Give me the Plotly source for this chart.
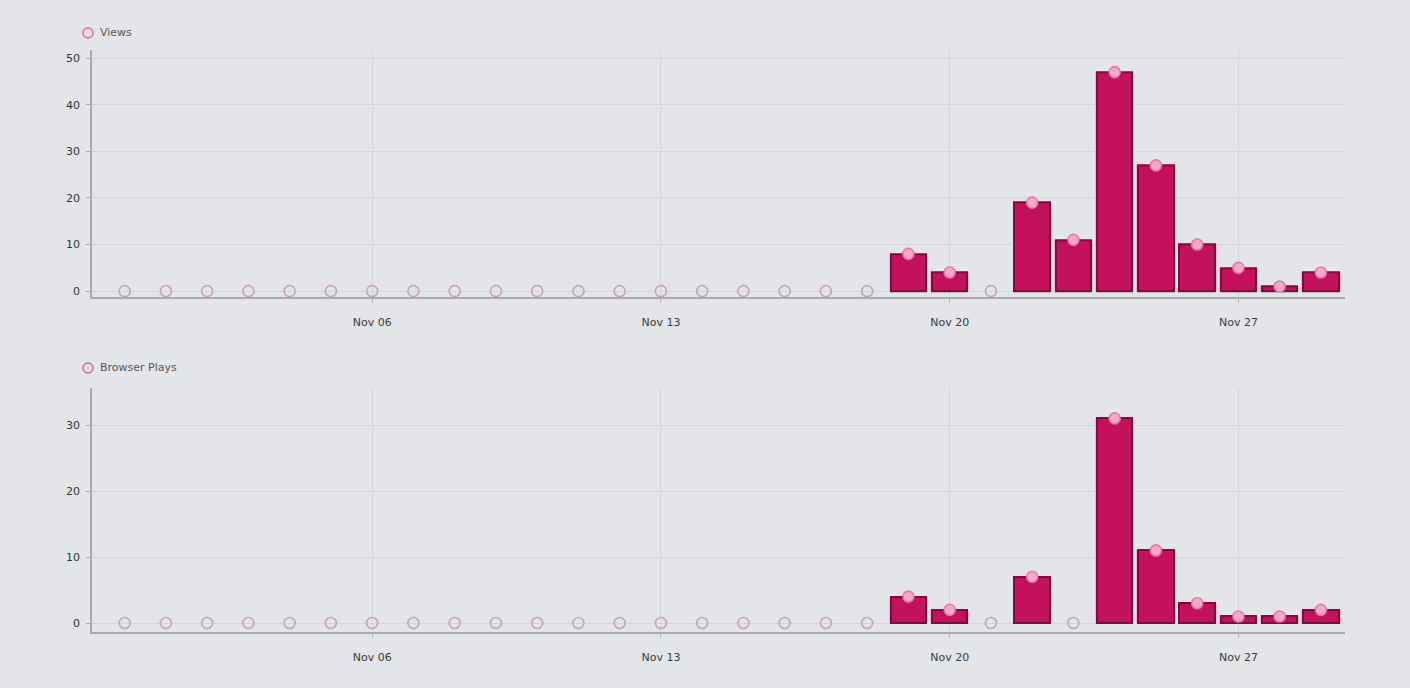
import plotly.graph_objects as go
import pandas as pd

dates = pd.date_range("2023-10-31", "2023-11-29", freq="D")
views = [0]*19 + [8, 4, 0, 19, 11, 47, 27, 10, 5, 1, 4]
plays = [0]*19 + [4, 2, 0, 7, 0, 31, 11, 3, 1, 1, 2]
tick_vals = ["2023-11-06", "2023-11-13", "2023-11-20", "2023-11-27"]
tick_text = ["Nov 06", "Nov 13", "Nov 20", "Nov 27"]
series_names = ["Views", "Browser Plays"]

BG = "#e4e5e9"
GRID = "#d4d5db"
BAR = "#c4115d"
BAR_EDGE = "#7e0b3d"
GLOW = "#f3b4cf"
DOT = "#f2a9c8"
DOT_EDGE = "#e07aa8"
ZERO_EDGE = "#c9a3b3"
DAY = 86400000

fig = go.Figure()

def add_series(vals, xa, ya, name):
    nz = [v if v > 0 else None for v in vals]
    fig.add_trace(go.Bar(x=dates, y=nz, width=DAY*0.95, marker=dict(color=GLOW, line=dict(width=0)),
                         xaxis=xa, yaxis=ya, showlegend=False, hoverinfo="skip"))
    fig.add_trace(go.Bar(x=dates, y=nz, width=DAY*0.86, name=name,
                         marker=dict(color=BAR, line=dict(color=BAR_EDGE, width=2)),
                         xaxis=xa, yaxis=ya, showlegend=False))
    fig.add_trace(go.Scatter(
        x=dates, y=vals, mode="markers", xaxis=xa, yaxis=ya, showlegend=False, name=name,
        marker=dict(size=11, symbol="circle",
                    color=[DOT if v > 0 else "rgba(0,0,0,0)" for v in vals],
                    line=dict(width=1.6, color=[DOT_EDGE if v > 0 else ZERO_EDGE for v in vals]))))

add_series(views, "x", "y", series_names[0])
add_series(plays, "x2", "y2", series_names[1])

xr = ["2023-10-30 05:00", "2023-11-29 14:00"]
xcommon = dict(type="date", range=xr, tickvals=tick_vals, ticktext=tick_text,
               showgrid=True, gridcolor=GRID, gridwidth=1, showline=True, linecolor="#a9a9ad",
               linewidth=1.5, ticks="outside", ticklen=4, tickcolor="#b5b5b9",
               ticklabelstandoff=10,
               tickfont=dict(family="DejaVu Sans", size=11, color="#3a3a3a"), zeroline=False)
ycommon = dict(showgrid=True, gridcolor=GRID, gridwidth=1, showline=True, linecolor="#a9a9ad",
               linewidth=1.5, ticks="outside", ticklen=4, tickcolor="#a9a9ad",
               ticklabelstandoff=4,
               tickfont=dict(family="DejaVu Sans", size=11, color="#333"), zeroline=False)

fig.update_layout(
    width=1410, height=688,
    margin=dict(l=92, r=65, t=0, b=0),
    paper_bgcolor=BG, plot_bgcolor=BG,
    barmode="overlay", bargap=0,
    xaxis=dict(domain=[0, 1], anchor="y", **xcommon),
    yaxis=dict(domain=[0.568, 0.927], anchor="x", range=[-1.3, 51.7], tickvals=[0, 10, 20, 30, 40, 50], **ycommon),
    xaxis2=dict(domain=[0, 1], anchor="y2", **xcommon),
    yaxis2=dict(domain=[0.081, 0.436], anchor="x2", range=[-1.4, 35.6], tickvals=[0, 10, 20, 30], **ycommon),
    showlegend=False,
)

# legend-like headers
for name, ypx in zip(series_names, [33, 368]):
    yp = 1 - ypx / 688
    fig.add_shape(type="circle", xref="paper", yref="paper",
                  x0=(83 - 92) / 1253, x1=(93 - 92) / 1253,
                  y0=yp - 5 / 688, y1=yp + 5 / 688,
                  line=dict(color="#c88aa4", width=1.8), fillcolor="rgba(240,200,215,0.4)")
    fig.add_annotation(text=name, xref="paper", yref="paper", x=(98 - 92) / 1253, y=yp,
                       xanchor="left", yanchor="middle", showarrow=False,
                       font=dict(family="DejaVu Sans", size=11, color="#555"))

fig.write_html("out.html", config={"displayModeBar": False},
               post_script="document.body.style.margin='0';document.body.style.background='#e4e5e9';")
